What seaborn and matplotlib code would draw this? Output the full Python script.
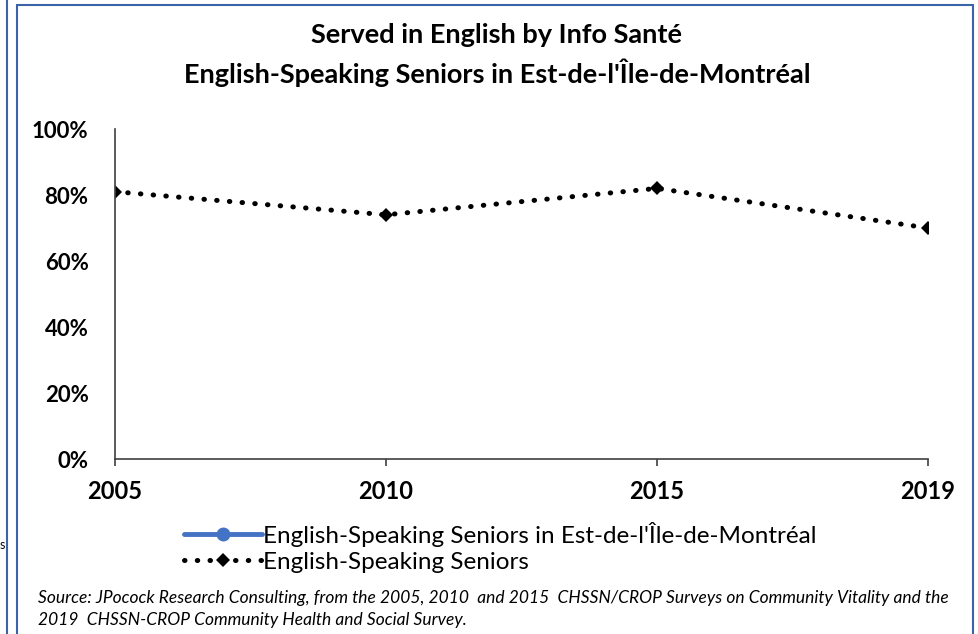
import numpy as np
import pandas as pd
import matplotlib
matplotlib.use('Agg')
import matplotlib.pyplot as plt
from matplotlib.lines import Line2D
from matplotlib.patches import Rectangle
from matplotlib.ticker import PercentFormatter
import seaborn as sns

# data
years = ['2005', '2010', '2015', '2019']
seniors = [0.81, 0.74, 0.82, 0.70]
region_label = "English-Speaking Seniors in Est-de-l'Île-de-Montréal"
seniors_label = 'English-Speaking Seniors'
title_lines = ['Served in English by Info Santé',
               "English-Speaking Seniors in Est-de-l'Île-de-Montréal"]
source_lines = ['Source: JPocock Research Consulting, from the 2005, 2010  and 2015  CHSSN/CROP Surveys on Community Vitality and the',
                '2019  CHSSN-CROP Community Health and Social Survey.']

sns.set_theme(style='white')
plt.rcParams['font.family'] = ['Lato', 'DejaVu Sans']
plt.rcParams['text.color'] = 'black'

df = pd.DataFrame({'year': years, 'share': seniors})

dots = (0, (0.1, 2.45))

fig = plt.figure(figsize=(9.79, 6.34), dpi=100)
ax = fig.add_axes([115 / 979, 1 - 459 / 634, (928 - 115) / 979, (459 - 129) / 634])

sns.lineplot(data=df, x='year', y='share', ax=ax, color='black',
             marker='D', markersize=7, markeredgewidth=0,
             linewidth=3.6, linestyle=dots, dash_capstyle='round')

ax.set_xlim(0, len(years) - 1)
ax.set_ylim(0, 1)
ax.set_yticks(np.arange(0, 1.01, 0.2))
ax.yaxis.set_major_formatter(PercentFormatter(1.0, decimals=0))
ax.set_xlabel('')
ax.set_ylabel('')
for s in ['top', 'right']:
    ax.spines[s].set_visible(False)
for s in ['left', 'bottom']:
    ax.spines[s].set_color('#404040')
    ax.spines[s].set_linewidth(1.2)
ax.tick_params(axis='x', bottom=True, length=5, width=1.2, color='#404040', pad=10)
ax.tick_params(axis='y', left=False, pad=13)
for lab in ax.get_xticklabels():
    lab.set_fontweight('bold')
    lab.set_fontsize(17)
    lab.set_color('black')
for lab in ax.get_yticklabels():
    lab.set_fontweight('bold')
    lab.set_fontsize(16)
    lab.set_color('black')

# title
fig.text(497 / 979, 1 - 35 / 634, title_lines[0], ha='center', va='center',
         fontsize=19.5, fontweight='bold')
fig.text(497 / 979, 1 - 73 / 634, title_lines[1], ha='center', va='center',
         fontsize=19.5, fontweight='bold')

# legend
handles = [Line2D([], [], color='#4472C4', linewidth=3.5, marker='o', markersize=9),
           Line2D([], [], color='black', linewidth=3.6, linestyle=dots,
                  dash_capstyle='round', marker='D', markersize=7, markeredgewidth=0)]
fig.legend(handles, [region_label, seniors_label], loc='upper left',
           bbox_to_anchor=(174 / 979, 1 - 512 / 634), frameon=False,
           fontsize=17.5, handlelength=3.2, handletextpad=0.05, labelspacing=0.2,
           borderaxespad=0)

# source note
fig.text(38 / 979, 1 - 598 / 634, source_lines[0], ha='left', va='center',
         fontsize=12.5, style='italic')
fig.text(38 / 979, 1 - 620 / 634, source_lines[1], ha='left', va='center',
         fontsize=12.5, style='italic')

# frame lines
frame = Rectangle((17 / 979, -0.05), (973 - 17) / 979, 1 - 5 / 634 + 0.05,
                  transform=fig.transFigure, fill=False, edgecolor='#3B63A8', linewidth=1.5)
fig.add_artist(frame)
fig.add_artist(Line2D([7 / 979, 7 / 979], [0, 1], transform=fig.transFigure,
                      color='#3B63A8', linewidth=1.5))
fig.text(0, 1 - 545 / 634, 's', ha='left', va='center', fontsize=9)

fig.savefig('out.png', dpi=100)
